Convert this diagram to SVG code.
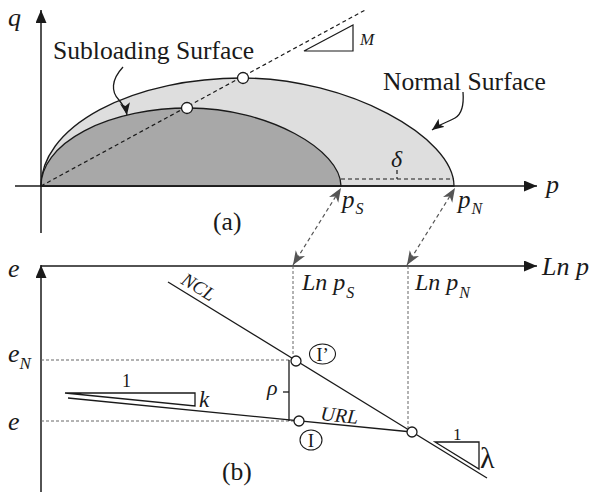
<svg xmlns="http://www.w3.org/2000/svg" width="593" height="492" viewBox="0 0 593 492">
<style>
text{font-family:"Liberation Serif","Times New Roman",serif;fill:#1a1a1a}
.it{font-style:italic}
.ax{stroke:#1a1a1a;stroke-width:1.5;fill:none}
.ln{stroke:#1a1a1a;stroke-width:1.3;fill:none}
.dash{stroke:#1a1a1a;stroke-width:1.2;fill:none;stroke-dasharray:4 3}
.gd{stroke:#666;stroke-width:1;fill:none;stroke-dasharray:3 2}
.ga{stroke:#555;stroke-width:1.2;fill:none;stroke-dasharray:4 3}
.pt{fill:#fff;stroke:#1a1a1a;stroke-width:1.3}
</style>
<defs>
<marker id="axh" markerUnits="userSpaceOnUse" markerWidth="14" markerHeight="12" refX="13" refY="5.5" orient="auto">
<path d="M0,0 L13,5.5 L0,11 z" fill="#1a1a1a"/>
</marker>
<marker id="gh" markerUnits="userSpaceOnUse" markerWidth="16" markerHeight="12" refX="14" refY="5.5" orient="auto-start-reverse">
<path d="M0,0 L14,5.5 L0,11 L4,5.5 z" fill="#555"/>
</marker>
<marker id="bh" markerUnits="userSpaceOnUse" markerWidth="14" markerHeight="12" refX="12" refY="5" orient="auto">
<path d="M0,0 L12,5 L0,10 L3,5 z" fill="#1a1a1a"/>
</marker>
</defs>

<g id="surfaces">
<path id="normal-surface" d="M41,186 A201,108 0 0 1 242,78 C348,78 454,137 454,186 Z" fill="#dedede" stroke="#1a1a1a" stroke-width="1.3"/>
<path id="subloading-surface" d="M41,186 A148,78 0 0 1 189,108 C268,108 341,150 341,186 Z" fill="#a8a8a8" stroke="#1a1a1a" stroke-width="1.3"/>
</g>

<g id="axes">
<line class="ax" x1="41" y1="233" x2="41" y2="10" marker-end="url(#axh)"/>
<line class="ax" x1="15" y1="186" x2="537" y2="186" marker-end="url(#axh)"/>
<line class="ax" x1="41" y1="492" x2="41" y2="265" marker-end="url(#axh)"/>
<line class="ax" x1="41" y1="266" x2="537" y2="266" marker-end="url(#axh)"/>
</g>

<g id="connectors">
<line class="dash" x1="41" y1="186" x2="367" y2="9"/>
<polygon points="304,51 353,25 353,51" fill="#fff" stroke="#1a1a1a" stroke-width="1.2"/>
<line class="dash" x1="341" y1="179" x2="454" y2="179" stroke-dasharray="4 2"/>
<line class="dash" x1="397" y1="170" x2="397" y2="179" stroke-dasharray="2 2"/>
<path class="ln" d="M123,67 C111,80 111,92 119,100 C123,105 126,109 127,115" marker-end="url(#bh)"/>
<path class="ln" d="M463,92 C464,105 462,114 455,118 C448,122 440,124 432,130" marker-end="url(#bh)"/>
<line class="ga" x1="293" y1="265" x2="341" y2="188" marker-start="url(#gh)" marker-end="url(#gh)"/>
<line class="ga" x1="407" y1="265" x2="455" y2="188" marker-start="url(#gh)" marker-end="url(#gh)"/>

<line class="gd" x1="41" y1="360" x2="291" y2="360"/>
<line class="gd" x1="41" y1="421" x2="294" y2="421"/>
<line class="gd" x1="293" y1="266" x2="293" y2="356"/>
<line class="gd" x1="408" y1="266" x2="408" y2="428"/>
<line class="ln" x1="168" y1="282" x2="487" y2="478"/>
<line class="ln" x1="68" y1="398" x2="412" y2="432"/>
<line class="ln" x1="289" y1="360" x2="289" y2="421"/>
<line class="ln" x1="283" y1="392" x2="289" y2="392"/>
<polygon points="65,393 195,393 195,406" fill="none" stroke="#1a1a1a" stroke-width="1.3"/>
<polygon points="435,442 479,442 479,469" fill="none" stroke="#1a1a1a" stroke-width="1.3"/>
</g>

<g id="points">
<circle class="pt" cx="243" cy="78" r="5.5"/>
<circle class="pt" cx="187" cy="108" r="5.5"/>
<circle class="pt" cx="296" cy="361" r="5"/>
<circle class="pt" cx="299" cy="421" r="5"/>
<circle class="pt" cx="412" cy="432" r="5"/>
</g>

<g id="labels">
<text class="it" x="8" y="26" font-size="26">q</text>
<text class="it" x="546" y="193" font-size="26">p</text>
<text x="53" y="59" font-size="25.6">Subloading Surface</text>
<text x="383" y="90" font-size="25.6">Normal Surface</text>
<text class="it" x="360" y="45" font-size="17">M</text>
<text class="it" x="391" y="167" font-size="24">δ</text>
<text class="it" x="342" y="208" font-size="25">p<tspan font-size="16" dx="1" dy="6">S</tspan></text>
<text class="it" x="458" y="208" font-size="25">p<tspan font-size="16" dx="1" dy="6">N</tspan></text>
<text x="213" y="230" font-size="25.6">(a)</text>

<text class="it" x="8" y="277" font-size="26">e</text>
<text class="it" x="542" y="275" font-size="26">Ln p</text>
<text class="it" x="302" y="290" font-size="24">Ln p<tspan font-size="16" dx="1" dy="8">S</tspan></text>
<text class="it" x="415" y="290" font-size="24">Ln p<tspan font-size="16" dx="1" dy="8">N</tspan></text>
<text class="it" x="8" y="362" font-size="26">e<tspan font-size="17" dy="7">N</tspan></text>
<text class="it" x="8" y="430" font-size="26">e</text>
<text class="it" font-size="19" transform="translate(180,283) rotate(31.5)">NCL</text>
<text class="it" font-size="20" transform="translate(320,420) rotate(5.8)">URL</text>
<text class="it" x="267" y="395" font-size="22">ρ</text>
<text x="122" y="387" font-size="18">1</text>
<text class="it" x="199" y="407" font-size="23">k</text>
<text x="453" y="440" font-size="17">1</text>
<text x="480" y="468" font-size="30">λ</text>
<ellipse cx="322.5" cy="354" rx="13" ry="10" fill="none" stroke="#1a1a1a" stroke-width="1.1"/>
<text x="322.5" y="361" font-size="19" text-anchor="middle">I’</text>
<ellipse cx="311" cy="440" rx="11" ry="10" fill="none" stroke="#1a1a1a" stroke-width="1.1"/>
<text x="311" y="447" font-size="19" text-anchor="middle">I</text>
<text x="222" y="480" font-size="25.6">(b)</text>
</g>
</svg>
